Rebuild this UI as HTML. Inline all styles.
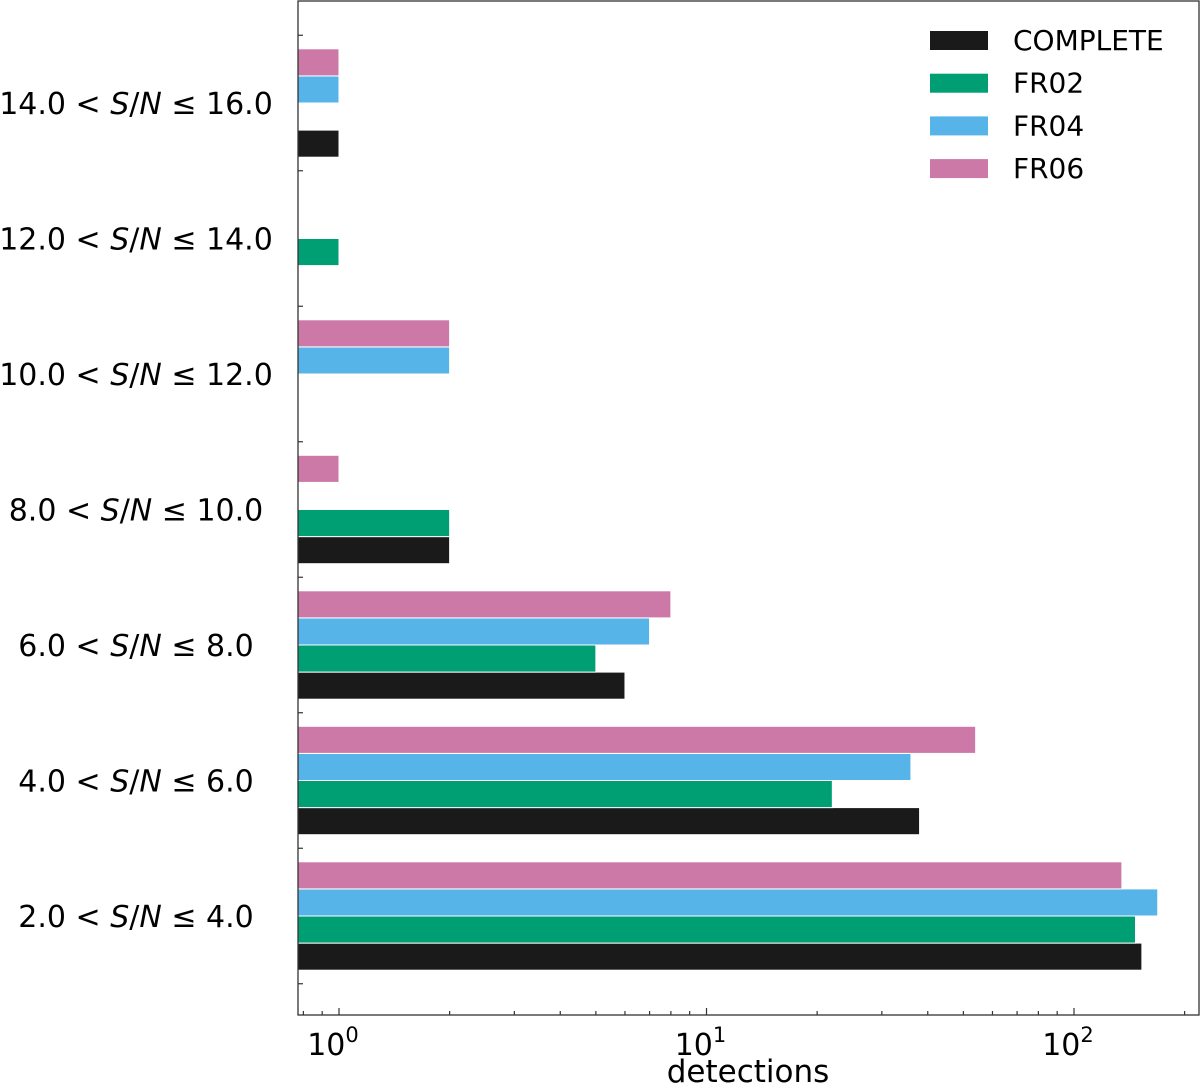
<!DOCTYPE html>
<html><head><meta charset="utf-8"><style>
html,body{margin:0;padding:0;background:#fff;}
svg{display:block;font-family:"DejaVu Sans","Liberation Sans",sans-serif;}
</style></head><body>
<svg id="chart" width="1200" height="1085" xmlns="http://www.w3.org/2000/svg"></svg>
<script>
const categories = ["2.0","4.0","6.0","8.0","10.0","12.0","14.0"];
const categoriesHi = ["4.0","6.0","8.0","10.0","12.0","14.0","16.0"];
const seriesNames = ["COMPLETE","FR02","FR04","FR06"];
const seriesColors = ["#1a1a1a","#009e73","#56b4e9","#cc79a7"];
const complete = [153, 38, 6, 2, 0, 0, 1];
const fr02 = [147, 22, 5, 2, 0, 1, 0];
const fr04 = [169, 36, 7, 0, 2, 0, 1];
const fr06 = [135, 54, 8, 1, 2, 0, 1];
const xTickExps = [0, 1, 2];

const series = [complete, fr02, fr04, fr06];
const svg = document.getElementById('chart');
const NS = "http://www.w3.org/2000/svg";
const L = 298, R = 1199, T = 1, B = 1015;
const px0 = 339, decade = 367.5;
const xS = v => px0 + Math.log10(v) * decade;
const xMin = Math.pow(10, (L - px0) / decade), xMax = Math.pow(10, (R - px0) / decade);
const groupStep = 135.5, y0 = 916;
const yS = i => y0 - i * groupStep;
const barH = groupStep * 0.8 / 4;

function el(tag, attrs, parent) {
  const e = document.createElementNS(NS, tag);
  for (const k in attrs) e.setAttribute(k, attrs[k]);
  (parent || svg).appendChild(e);
  return e;
}

series.forEach((vals, s) => {
  vals.forEach((v, i) => {
    if (!(v > 0)) return;
    const yc = yS(i) + groupStep * 0.4 - barH * (s + 0.5);
    const r = el('rect', {x: L, y: yc - barH / 2, width: Math.max(0, xS(v) - L), height: barH, fill: seriesColors[s], stroke: '#fff', 'stroke-width': 1});
    
    
  });
});

const frame = el('rect', {x: L, y: T, width: R - L, height: B - T, fill: 'none', stroke: '#333', 'stroke-width': 1.3});



for (let i = 0; i <= categories.length; i++) {
  const y = yS(i) + groupStep / 2;
  if (y > T && y < B) el('line', {x1: L, x2: L + 5, y1: y, y2: y, stroke: '#333', 'stroke-width': 1.2});
}
categories.forEach((c, i) => {
  const t = el('text', {x: 136, y: yS(i) + 11, 'text-anchor': 'middle', 'font-size': 30, fill: '#000'});
  
  
  t.innerHTML = c + ' &lt; <tspan font-style="italic">S</tspan>/<tspan font-style="italic">N</tspan> ≤ ' + categoriesHi[i];
});

for (let e = -1; e <= 2; e++) {
  for (let m = 1; m <= 9; m++) {
    const v = m * Math.pow(10, e);
    if (v < xMin || v > xMax) continue;
    const x = xS(v);
    el('line', {x1: x, x2: x, y1: B, y2: B - (m === 1 ? 7 : 4), stroke: '#333', 'stroke-width': 1.2});
  }
}
xTickExps.forEach(e => {
  const t = el('text', {x: xS(Math.pow(10, e)) - 6, y: 1055, 'text-anchor': 'middle', 'font-size': 30, fill: '#000'});
  
  
  t.innerHTML = '10<tspan dy="-13" font-size="21">' + e + '</tspan>';
});
const xt = el('text', {x: 748, y: 1082, 'text-anchor': 'middle', 'font-size': 31, fill: '#000'});


xt.textContent = 'detections';

const lg = el('g', {});


seriesNames.forEach((n, s) => {
  const y = 40 + s * 42.7;
  const r = el('rect', {x: 930, y: y - 9, width: 58, height: 19, fill: seriesColors[s]}, lg);
  
  
  const t = el('text', {x: 1013, y: y + 10, 'font-size': 28, fill: '#000'}, lg);
  
  
  t.textContent = n;
});
</script>
</body></html>
